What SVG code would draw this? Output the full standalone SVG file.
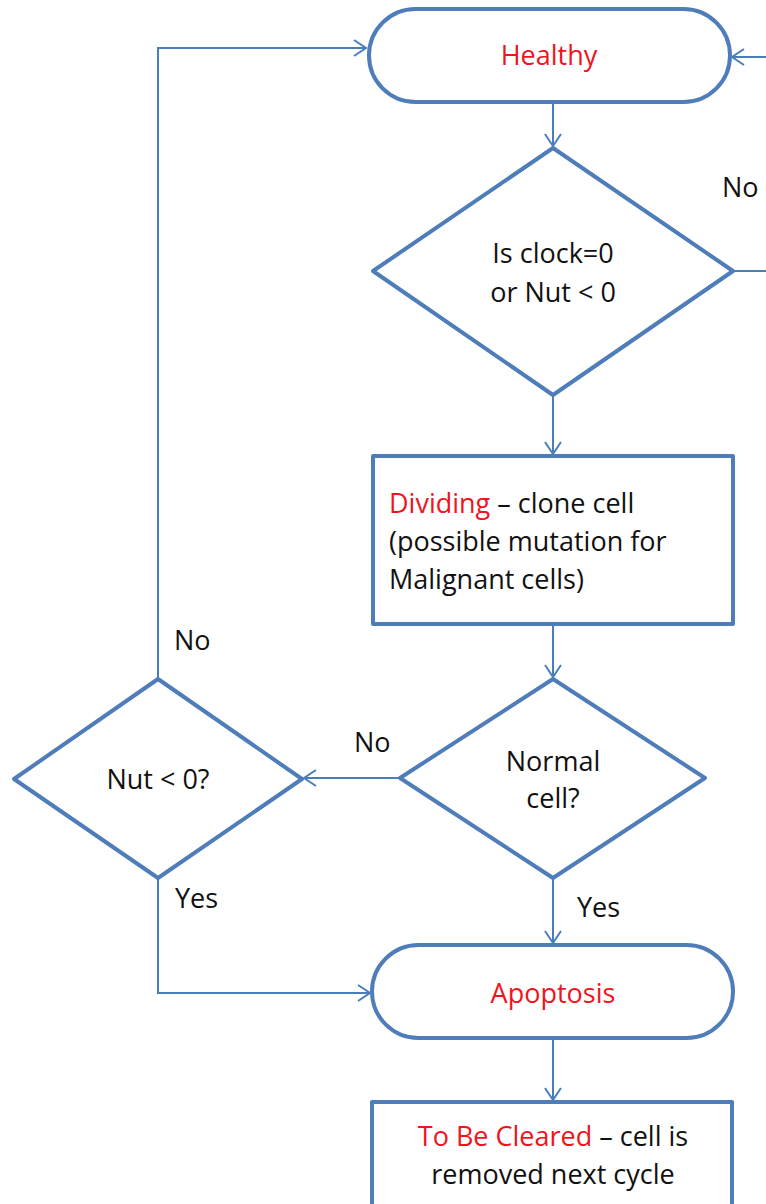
<svg xmlns="http://www.w3.org/2000/svg" width="766" height="1204" viewBox="0 0 766 1204">
<defs>
<style>
.shape{fill:#fff;stroke:#4F7DBA;stroke-width:4;stroke-linejoin:round}
.conn{fill:none;stroke:#4A7EBB;stroke-width:2}
text{font-family:"Open Sans","Liberation Sans",sans-serif;font-size:27px;fill:#111}
.red{fill:#F0141E}
.c{text-anchor:middle}
</style>
<marker id="arr" markerUnits="userSpaceOnUse" markerWidth="20" markerHeight="20" refX="14" refY="10" orient="auto" viewBox="0 0 20 20">
<path d="M2,2 L14,10 L2,18" fill="none" stroke="#4A7EBB" stroke-width="2"/>
</marker>
</defs>
<rect width="766" height="1204" fill="#fff"/>
<g id="connectors">
<path class="conn" d="M553,102 V146" marker-end="url(#arr)"/>
<path class="conn" d="M553,395 V454" marker-end="url(#arr)"/>
<path class="conn" d="M553,624 V677" marker-end="url(#arr)"/>
<path class="conn" d="M553,878 V943" marker-end="url(#arr)"/>
<path class="conn" d="M553,1038 V1100" marker-end="url(#arr)"/>
<path class="conn" d="M733,271 H770"/>
<path class="conn" d="M770,57 H732" marker-end="url(#arr)"/>
<path class="conn" d="M400,778 H304" marker-end="url(#arr)"/>
<path class="conn" d="M158,679 V48 H366" marker-end="url(#arr)"/>
<path class="conn" d="M158,878 V993 H370" marker-end="url(#arr)"/>
<text x="722" y="197">No</text>
<text x="174" y="650">No</text>
<text x="354" y="752">No</text>
<text x="175" y="908">Yes</text>
<text x="577" y="917">Yes</text>
</g>
<g id="healthy">
<rect class="shape" x="369" y="9" width="361" height="93" rx="46.5"/>
<text class="c red" x="549" y="65">Healthy</text>
</g>
<g id="decision-clock">
<polygon class="shape" points="553,148 733,271 553,395 373,271"/>
<text class="c" x="553" y="263">Is clock=0</text>
<text class="c" x="553" y="302">or Nut &lt; 0</text>
</g>
<g id="dividing">
<rect class="shape" x="373" y="456" width="360" height="168"/>
<text x="389" y="513"><tspan class="red">Dividing</tspan> – clone cell</text>
<text x="389" y="551">(possible mutation for</text>
<text x="389" y="589">Malignant cells)</text>
</g>
<g id="decision-normal">
<polygon class="shape" points="553,679 705,778 553,878 400,778"/>
<text class="c" x="553" y="771">Normal</text>
<text class="c" x="553" y="808">cell?</text>
</g>
<g id="decision-nut">
<polygon class="shape" points="158,679 302,779 158,878 14,779"/>
<text class="c" x="158" y="789">Nut &lt; 0?</text>
</g>
<g id="apoptosis">
<rect class="shape" x="372" y="945" width="361" height="93" rx="46.5"/>
<text class="c red" x="553" y="1003">Apoptosis</text>
</g>
<g id="to-be-cleared">
<rect class="shape" x="372" y="1102" width="360" height="120"/>
<text class="c" x="553" y="1146"><tspan class="red">To Be Cleared</tspan> – cell is</text>
<text class="c" x="553" y="1184">removed next cycle</text>
</g>
</svg>
